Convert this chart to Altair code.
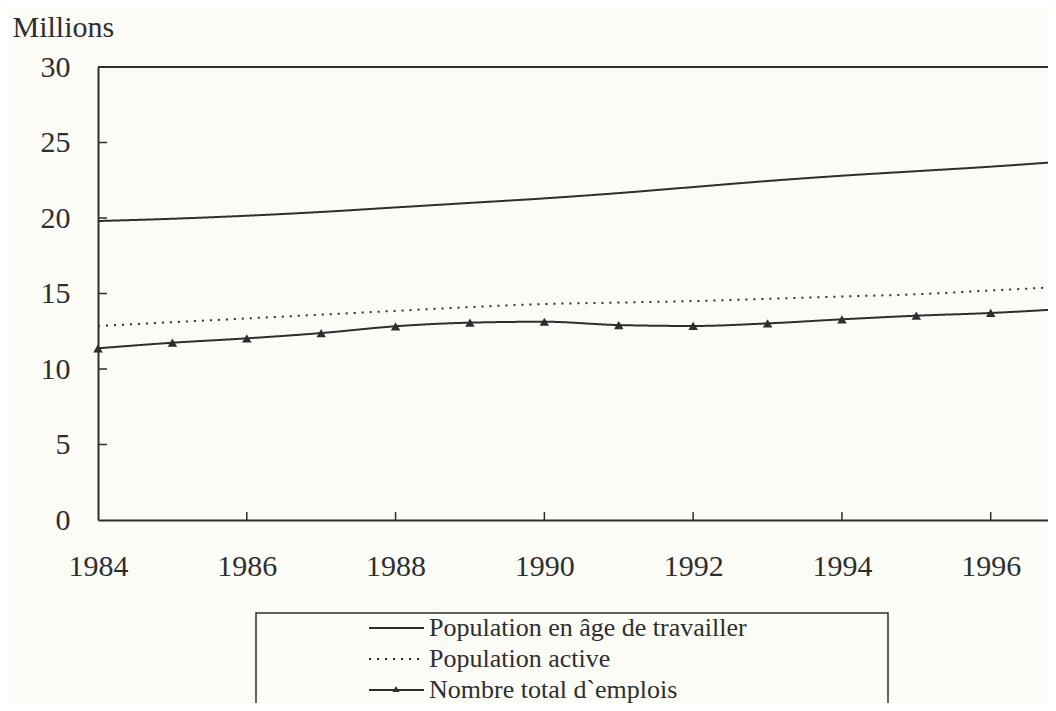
import altair as alt
import pandas as pd

years = list(range(1984, 1998))
series_names = ["Population en âge de travailler", "Population active", "Nombre total d`emplois"]
working_age = [19.8, 19.95, 20.15, 20.4, 20.7, 21.0, 21.3, 21.65, 22.05, 22.45, 22.8, 23.1, 23.4, 23.75]
labour_force = [12.85, 13.1, 13.35, 13.6, 13.85, 14.1, 14.3, 14.4, 14.5, 14.65, 14.8, 14.95, 15.2, 15.45]
employment = [11.37, 11.74, 12.03, 12.38, 12.83, 13.07, 13.13, 12.91, 12.85, 13.02, 13.29, 13.53, 13.71, 13.98]

x_label_values = [1984, 1986, 1988, 1990, 1992, 1994, 1996]
x_tick_values = [1986, 1988, 1990, 1992, 1994, 1996]
y_label_values = [0, 5, 10, 15, 20, 25, 30]
y_tick_values = [5, 10, 15, 20, 25]

INK = "#2e2e2e"
FONT = "Liberation Serif"
W, H = 950, 453

rows = []
for name, vals in zip(series_names, [working_age, labour_force, employment]):
    for y, v in zip(years, vals):
        rows.append({"year": y, "value": v, "series": name})
df = pd.DataFrame(rows)
emp_df = df[df["series"] == series_names[2]].copy()
emp_df["marker"] = "triangle"

x_enc = alt.X("year:Q",
              scale=alt.Scale(domain=[1984, 1996.77], nice=False, zero=False),
              axis=alt.Axis(values=x_label_values, format="d", title=None,
                            labelPadding=31, labelFlush=False, labelOverlap=False,
                            ticks=False, tickSize=0, grid=False))
y_enc = alt.Y("value:Q",
              scale=alt.Scale(domain=[0, 30], nice=False),
              axis=alt.Axis(values=y_label_values, title="Millions",
                            labelPadding=28, ticks=False, tickSize=0, grid=False,
                            titleAngle=0, titleX=-86, titleY=-31,
                            titleAlign="left", titleBaseline="alphabetic",
                            titleFont=FONT, titleFontSize=30, titleFontWeight="normal",
                            titleColor=INK))

lines = alt.Chart(df).mark_line(interpolate="monotone", clip=True, strokeWidth=2, color=INK).encode(
    x=x_enc,
    y=y_enc,
    strokeDash=alt.StrokeDash(
        "series:N",
        scale=alt.Scale(domain=series_names, range=[[1, 0], [2, 6], [1, 0]]),
        sort=series_names,
        legend=alt.Legend(title=None, orient="none", legendX=270, legendY=546.75,
                          padding=0, symbolType="stroke", symbolSize=3025,
                          symbolStrokeWidth=2, symbolStrokeColor=INK,
                          clipHeight=28.5, rowPadding=2, labelOffset=4,
                          labelFont=FONT, labelFontSize=26, labelColor=INK,
                          labelLimit=700),
    ),
    detail="series:N",
)

points = alt.Chart(emp_df).mark_point(filled=True, size=90, color=INK, opacity=1).encode(
    x="year:Q",
    y="value:Q",
    shape=alt.Shape(
        "marker:N",
        scale=alt.Scale(range=["triangle-up"]),
        legend=alt.Legend(title=None, orient="none", legendX=294, legendY=607.75,
                          padding=0, symbolSize=50, symbolStrokeWidth=0,
                          symbolFillColor=INK, symbolStrokeColor=INK,
                          clipHeight=28.5, labelExpr="''", labelFontSize=1),
    ),
)

xticks = alt.Chart(pd.DataFrame({"year": x_tick_values})).mark_rule(color=INK, strokeWidth=1.5).encode(
    x="year:Q", y=alt.value(H - 8), y2=alt.value(H)
)
yticks = alt.Chart(pd.DataFrame({"value": y_tick_values})).mark_rule(color=INK, strokeWidth=1.5).encode(
    y="value:Q", x=alt.value(0), x2=alt.value(9)
)

one = pd.DataFrame({"a": [0]})
top_border = alt.Chart(one).mark_rule(color=INK, strokeWidth=2).encode(
    x=alt.value(0), x2=alt.value(W), y=alt.value(0)
)
legend_box = alt.Chart(one).mark_rect(filled=False, stroke=INK, strokeWidth=1.5).encode(
    x=alt.value(158), x2=alt.value(790), y=alt.value(546), y2=alt.value(720)
)

chart = alt.layer(lines, points, xticks, yticks, top_border, legend_box).properties(
    width=W, height=H,
    autosize=alt.AutoSizeParams(type="none"),
    padding={"left": 90, "top": 59, "right": 0, "bottom": 183},
    background="#fcfcf6",
).configure_view(stroke=None).configure_axis(
    domainColor=INK, domainWidth=2, labelFont=FONT, labelFontSize=30, labelColor=INK,
)

chart.save("out.html", embed_options={"renderer": "svg", "actions": False})
